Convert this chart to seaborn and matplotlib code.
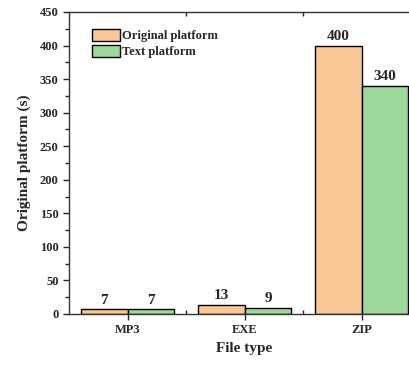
import numpy as np
import pandas as pd
import matplotlib
matplotlib.use('Agg')
import matplotlib.pyplot as plt
import seaborn as sns
from matplotlib.ticker import MultipleLocator, FixedLocator

file_types = ['MP3', 'EXE', 'ZIP']
original = [7, 13, 400]
text = [7, 9, 340]
platforms = ['Original platform', 'Text platform']
colors = ['#FCC796', '#9ED89B']

df = pd.DataFrame({
    'File type': file_types * 2,
    'time': original + text,
    'platform': [platforms[0]] * 3 + [platforms[1]] * 3,
})

sns.set_style('ticks')
plt.rcParams['font.family'] = ['Liberation Serif', 'DejaVu Serif']
plt.rcParams['font.weight'] = 'bold'

fig = plt.figure(figsize=(4.09, 3.65), dpi=100)
ax = fig.add_axes([69 / 409, 51 / 365, 351 / 409, 302 / 365])

sns.barplot(data=df, x='File type', y='time', hue='platform', palette=colors,
            saturation=1, edgecolor='black', linewidth=1.0, width=0.8, ax=ax)

for cont in ax.containers:
    ax.bar_label(cont, padding=2, fontsize=11, fontweight='bold')

ax.set_xlim(-0.5, 2.5)
ax.set_ylim(0, 450)
ax.yaxis.set_major_locator(MultipleLocator(50))
ax.yaxis.set_minor_locator(MultipleLocator(25))
ax.xaxis.set_minor_locator(FixedLocator([0.5, 1.5]))
ax.tick_params(axis='both', which='both', direction='out', labelsize=9, width=1)
ax.tick_params(axis='both', which='major', length=4)
ax.tick_params(axis='both', which='minor', length=3)
ax.tick_params(axis='x', which='minor', top=True, direction='in')
for lab in ax.get_xticklabels() + ax.get_yticklabels():
    lab.set_fontweight('bold')

for sp in ax.spines.values():
    sp.set_visible(True)
    sp.set_linewidth(1.0)
    sp.set_color('#333333')

ax.set_xlabel('File type', fontsize=11, fontweight='bold')
ax.set_ylabel('Original platform (s)', fontsize=11, fontweight='bold', labelpad=6)

ax.legend(loc='upper left', bbox_to_anchor=(0.05, 0.96), frameon=False,
          fontsize=9, handlelength=2.3, handleheight=1.1, handletextpad=0.1,
          labelspacing=0.2, borderaxespad=0)

fig.savefig('out.png', dpi=100)
